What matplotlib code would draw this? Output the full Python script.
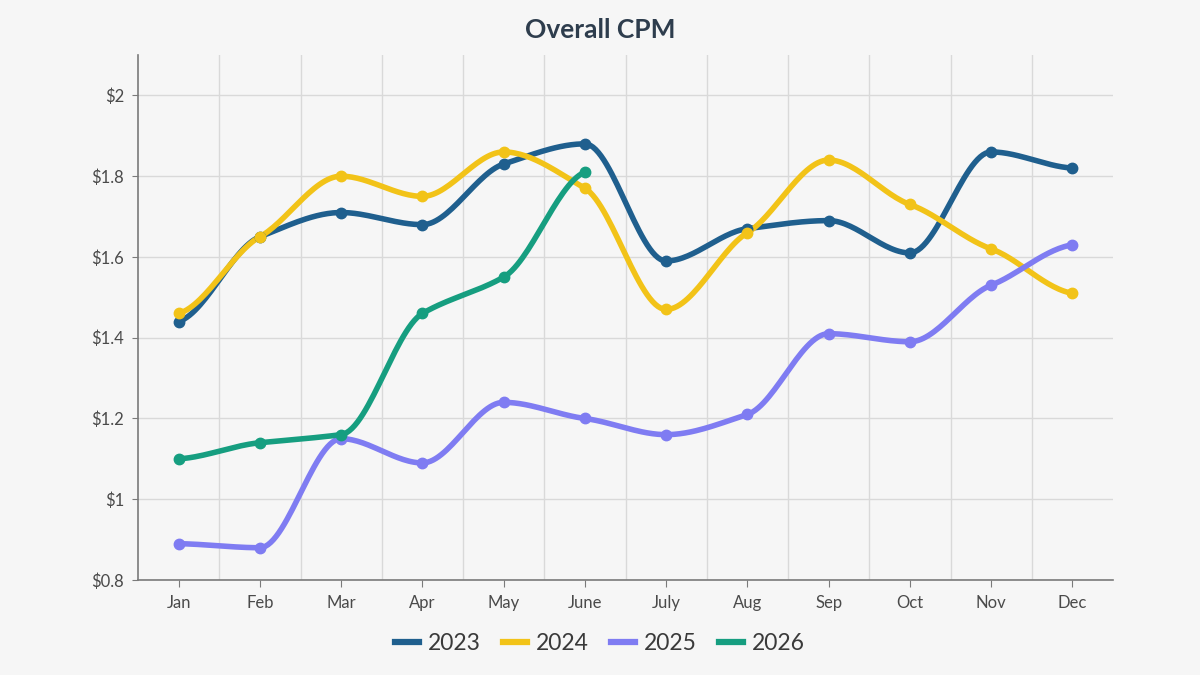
import numpy as np
import matplotlib
matplotlib.use("Agg")
from matplotlib import pyplot as plt
from matplotlib.lines import Line2D

months = ['Jan', 'Feb', 'Mar', 'Apr', 'May', 'June', 'July', 'Aug', 'Sep', 'Oct', 'Nov', 'Dec']

cpm_2023 = [1.44, 1.65, 1.71, 1.68, 1.83, 1.88, 1.59, 1.67, 1.69, 1.61, 1.86, 1.82]
cpm_2024 = [1.46, 1.65, 1.80, 1.75, 1.86, 1.77, 1.47, 1.66, 1.84, 1.73, 1.62, 1.51]
cpm_2025 = [0.89, 0.88, 1.15, 1.09, 1.24, 1.20, 1.16, 1.21, 1.41, 1.39, 1.53, 1.63]
cpm_2026 = [1.10, 1.14, 1.16, 1.46, 1.55, 1.81]

y_ticks = [0.8, 1.0, 1.2, 1.4, 1.6, 1.8, 2.0]
y_labels = ['$0.8', '$1', '$1.2', '$1.4', '$1.6', '$1.8', '$2']

COLORS = {'2023': '#1f5f8e', '2024': '#f2c318', '2025': '#7f7cf2', '2026': '#169e80'}


def smooth(ys, steps=30, soft=0.65):
    """Softened monotone cubic curve through the points, for drawing only."""
    ys = np.asarray(ys, dtype=float)
    n = len(ys)
    d = np.diff(ys)  # slopes, step 1
    m = np.zeros(n)
    for i in range(1, n - 1):
        s0, s1 = d[i - 1], d[i]
        p = (s0 + s1) / 2
        m[i] = soft * (np.sign(s0) + np.sign(s1)) * min(abs(s0), abs(s1), 0.5 * abs(p))
    m[0] = 0.3 * d[0]
    m[-1] = 0.3 * d[-1]
    t = np.linspace(0, 1, steps, endpoint=False)
    h00 = 2 * t ** 3 - 3 * t ** 2 + 1
    h10 = t ** 3 - 2 * t ** 2 + t
    h01 = -2 * t ** 3 + 3 * t ** 2
    h11 = t ** 3 - t ** 2
    out_x, out_y = [], []
    for i in range(n - 1):
        out_x.extend(i + t)
        out_y.extend(h00 * ys[i] + h10 * m[i] + h01 * ys[i + 1] + h11 * m[i + 1])
    out_x.append(n - 1)
    out_y.append(ys[-1])
    return np.array(out_x), np.array(out_y)


plt.rcParams['font.family'] = ['Lato', 'DejaVu Sans']

fig = plt.figure(figsize=(12, 6.75), dpi=100, facecolor='#f6f6f6')
ax = fig.add_axes([0.115, 0.1407, 0.8125, 0.7778])
ax.set_facecolor('#f6f6f6')

series = [('2023', cpm_2023), ('2024', cpm_2024), ('2025', cpm_2025), ('2026', cpm_2026)]
for name, vals in series:
    sx, sy = smooth(vals)
    ax.plot(sx, sy, color=COLORS[name], lw=4, solid_capstyle='round', zorder=3)
    ax.plot(range(len(vals)), vals, 'o', color=COLORS[name], ms=7.5, zorder=4)

ax.set_xlim(-0.5, 11.5)
ax.set_ylim(0.8, 2.1)
ax.set_xticks(range(len(months)))
ax.set_xticklabels(months)
ax.set_yticks(y_ticks)
ax.set_yticklabels(y_labels)

ax.set_xticks(np.arange(0.5, 11, 1), minor=True)
ax.grid(False)
ax.xaxis.grid(True, which='minor', color='#d9d9d9', lw=1)
ax.yaxis.grid(True, which='major', color='#d9d9d9', lw=1)
ax.set_axisbelow(True)

for side in ('top', 'right'):
    ax.spines[side].set_visible(False)
for side in ('left', 'bottom'):
    ax.spines[side].set_color('#7a7a7a')
    ax.spines[side].set_linewidth(1.2)

ax.tick_params(axis='x', which='major', length=5, color='#7a7a7a', labelsize=12,
               labelcolor='#4a4a4a', pad=6)
ax.tick_params(axis='x', which='minor', length=0)
ax.tick_params(axis='y', length=4, color='#7a7a7a', labelsize=12, labelcolor='#4a4a4a', pad=6)

fig.text(0.5, 0.955, 'Overall CPM', ha='center', va='center', fontsize=19,
         fontweight='bold', color='#2e3d4d')

handles = [Line2D([0], [0], color=COLORS[n], lw=4.5) for n, _ in series]
fig.legend(handles, [n for n, _ in series], loc='center', bbox_to_anchor=(0.5, 0.047),
           ncol=4, frameon=False, fontsize=16.5, handlelength=1.05, handletextpad=0.4,
           columnspacing=0.95, labelcolor='#3a3a3a')

fig.savefig('out.png', dpi=100, facecolor=fig.get_facecolor())
